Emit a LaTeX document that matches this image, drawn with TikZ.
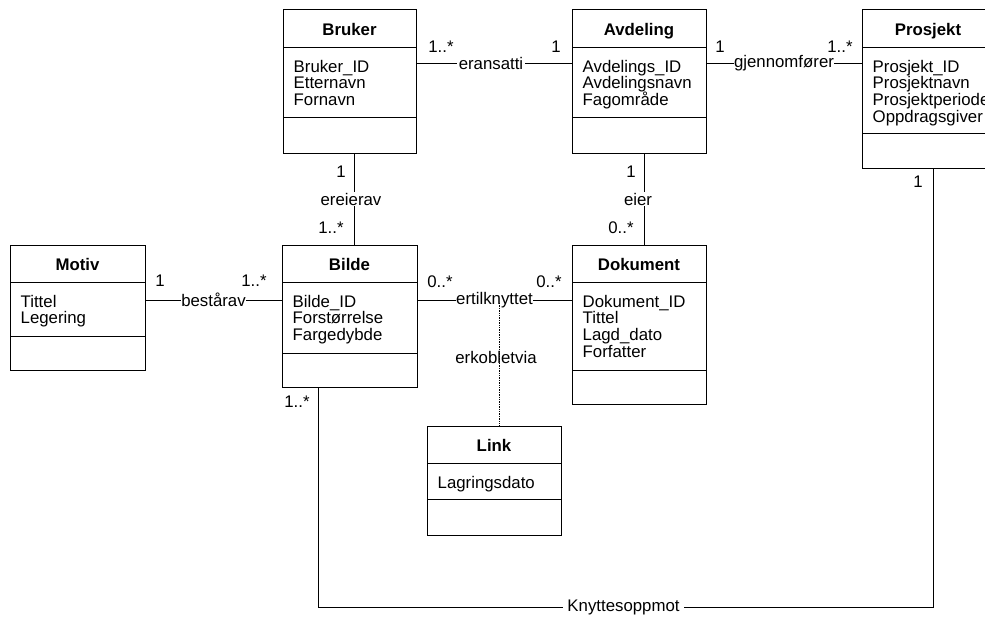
\documentclass[tikz,border=0pt]{standalone}
\usepackage{fontspec}
\setmainfont{Liberation Sans}
\usetikzlibrary{fit}
\newcommand\fs{\fontsize{16.8}{18}\selectfont}
\tikzset{
  titletext/.style={font=\fs\bfseries, anchor=base, inner sep=0pt},
  attrtext/.style={font=\fs, anchor=base west, inner sep=0pt},
  multtext/.style={font=\fs, anchor=base, inner sep=0pt},
  assoctext/.style={font=\fs, fill=white, inner xsep=1.5pt, inner ysep=1pt},
  boxline/.style={line width=0.9pt},
  dotline/.style={line width=0.8pt, dash pattern=on 1.4pt off 1pt},
}
% name, left, top, right, header y, attr y, bottom, title, attrs
\newcommand\umlclass[9]{%
  \coordinate (#1-nw) at (#2,#3);
  \coordinate (#1-se) at (#4,#7);
  \node[boxline, draw, inner sep=0pt, fit=(#1-nw)(#1-se)] (#1) {};
  \draw[boxline] (#2,#5) -- (#4,#5);
  \draw[boxline] (#2,#6) -- (#4,#6);
  \pgfmathsetmacro\cx{(#2+#4)/2}
  \node[titletext] (#1-title) at (\cx,#5-12) {#8};
  \foreach \a [count=\i from 0] in {#9} {
    \node[attrtext] (#1-a\i) at (#2+10.5,#5+25+16.7*\i) {\a};
  }
}
\begin{document}
\begin{tikzpicture}[x=1pt,y=-1pt]
\useasboundingbox (0,0) rectangle (985,619);
\fill[white] (0,0) rectangle (985,619);

\umlclass{bruker}{283}{9}{416}{47}{117}{153}{Bruker}{Bruker\_ID,Etternavn,Fornavn}
\umlclass{avdeling}{572}{9}{706}{47}{117}{153}{Avdeling}{Avdelings\_ID,Avdelingsnavn,Fagområde}
\umlclass{prosjekt}{862}{9}{994}{47}{133}{168}{Prosjekt}{Prosjekt\_ID,Prosjektnavn,Prosjektperiode,Oppdragsgiver}
\umlclass{motiv}{10}{245}{145}{282}{336}{370}{Motiv}{Tittel,Legering}
\umlclass{bilde}{282}{245}{417}{282}{353}{387}{Bilde}{Bilde\_ID,Forstørrelse,Fargedybde}
\umlclass{dokument}{572}{245}{706}{282}{370}{404}{Dokument}{Dokument\_ID,Tittel,Lagd\_dato,Forfatter}
\umlclass{link}{427}{426}{561}{463}{499}{535}{Link}{Lagringsdato}

% reference rows / columns
\coordinate (rowtop) at (0,63);
\coordinate (rowmid) at (0,300);
\coordinate (colbruker) at (354,0);
\coordinate (colavd) at (644,0);
\coordinate (kbl) at (318,607);
\coordinate (kbr) at (933,607);
\coordinate (dv) at (499,303);

% horizontal associations
\draw[boxline] (bruker.east |- rowtop) -- node[assoctext, xshift=-3pt] (l-eransatti) {eransatti} (avdeling.west |- rowtop);
\draw[boxline] (avdeling.east |- rowtop) -- node[assoctext, inner xsep=0.3pt] (l-gjennom) {gjennomfører} (prosjekt.west |- rowtop);
\draw[boxline] (motiv.east |- rowmid) -- node[assoctext, inner xsep=0.5pt] (l-bestar) {bestårav} (bilde.west |- rowmid);
\draw[boxline] (bilde.east |- rowmid) -- node[assoctext, inner xsep=0.5pt] (l-ertil) {ertilknyttet} (dokument.west |- rowmid);

% vertical associations
\draw[boxline] (bruker.south -| colbruker) -- node[assoctext, xshift=-3pt] (l-ereierav) {ereierav} (bilde.north -| colbruker);
\draw[boxline] (avdeling.south -| colavd) -- node[assoctext, xshift=-6pt] (l-eier) {eier} (dokument.north -| colavd);

% link class association (dotted)
\draw[dotline] (dv) -- (dv |- link.north);
\node[font=\fs, inner sep=0pt] (l-erkob) at (496,357) {erkobletvia};

% Knyttesoppmot
\draw[boxline] (bilde.south -| kbl) -- (kbl) -- node[assoctext, inner xsep=4pt, xshift=-2pt] (l-knytte) {Knyttesoppmot} (kbr) -- (prosjekt.south -| kbr);

% multiplicities
\node[multtext] (m1) at (441,52) {1..*};
\node[multtext] (m2) at (556,52) {1};
\node[multtext] (m3) at (720,52) {1};
\node[multtext] (m4) at (840,52) {1..*};
\node[multtext] (m5) at (160,286) {1};
\node[multtext] (m6) at (254,286) {1..*};
\node[multtext] (m7) at (440,287) {0..*};
\node[multtext] (m8) at (549,287) {0..*};
\node[multtext] (m9) at (341,177) {1};
\node[multtext] (m10) at (331,233) {1..*};
\node[multtext] (m11) at (631,177) {1};
\node[multtext] (m12) at (621,233) {0..*};
\node[multtext] (m13) at (297,407) {1..*};
\node[multtext] (m14) at (918,187) {1};
\end{tikzpicture}
\end{document}
